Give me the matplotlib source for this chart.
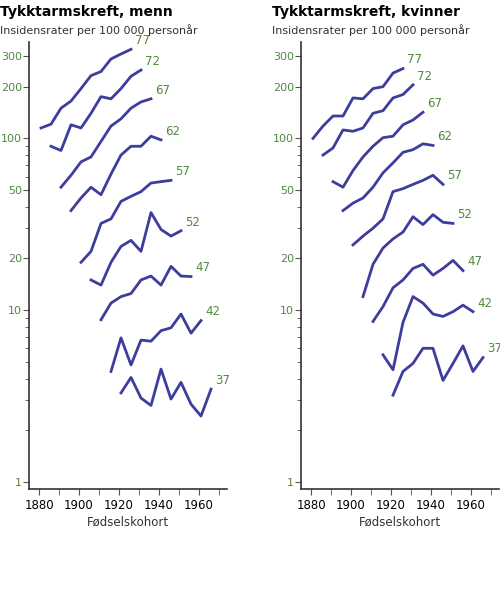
import matplotlib.pyplot as plt
import numpy as np
from matplotlib.ticker import FixedLocator, NullFormatter, LogLocator

ages = [77, 72, 67, 62, 57, 52, 47, 42, 37]
start_years = [1881, 1886, 1891, 1896, 1901, 1906, 1911, 1916, 1921]

menn = [
    [115, 121, 150, 165, 195, 232, 245, 290, 310, 330],
    [90, 85, 120, 115, 140, 175, 170, 195, 230, 250],
    [52, 61, 73, 78, 96, 118, 130, 150, 163, 170],
    [38, 45, 52, 47, 62, 80, 90, 90, 103, 98],
    [19, 22, 32, 34, 43, 46, 49, 55, 56, 57],
    [15, 14, 19, 23.5, 25.5, 22, 37, 29.5, 27, 29],
    [8.8, 11, 12, 12.5, 15, 15.8, 14, 18, 15.8, 15.7],
    [4.4, 6.9, 4.8, 6.7, 6.6, 7.6, 7.9, 9.5, 7.35, 8.7],
    [3.3, 4.06, 3.08, 2.79, 4.54, 3.04, 3.8, 2.84, 2.42, 3.47],
]
kvinner = [
    [100, 118, 135, 135, 172, 170, 195, 200, 240, 255],
    [80, 88, 112, 110, 115, 140, 145, 172, 180, 205],
    [56, 52, 65, 78, 90, 101, 103, 120, 128, 142],
    [38, 42, 45, 52, 63, 72, 83, 86, 93, 91],
    [24, 27, 30, 34, 49, 51, 54, 57, 61, 54],
    [12, 18.5, 23, 26, 28.5, 35, 31.5, 36, 32.5, 32],
    [8.6, 10.5, 13.5, 15, 17.5, 18.5, 16, 17.5, 19.5, 17],
    [5.5, 4.5, 8.5, 12, 11, 9.5, 9.2, 9.8, 10.7, 9.8],
    [3.2, 4.4, 4.9, 6.0, 6.0, 3.9, 4.9, 6.2, 4.4, 5.3],
]
titles = ["Tykktarmskreft, menn", "Tykktarmskreft, kvinner"]
yticks = [1, 10, 20, 50, 100, 200, 300]
xticks = [1880, 1900, 1920, 1940, 1960]

blue = "#3d3d9e"
green = "#4f8a3c"

fig = plt.figure(figsize=(5, 6.03), dpi=100)
for i, (data, title) in enumerate(zip([menn, kvinner], titles)):
    left = 0.058 + i * 0.544
    ax = fig.add_axes([left, 0.189, 0.396, 0.741])
    for age, sy, vals in zip(ages, start_years, data):
        x = np.arange(sy, sy + 5 * len(vals), 5)
        ax.plot(x, vals, color=blue, lw=2)
        ax.text(x[-1] + 2, vals[-1] * 1.03, str(age), color=green, fontsize=8.5,
                va="bottom")
    ax.set_yscale("log")
    ax.set_ylim(0.91, 363)
    ax.set_xlim(1875, 1974)
    ax.yaxis.set_major_locator(FixedLocator(yticks))
    ax.set_yticklabels([str(t) for t in yticks])
    ax.yaxis.set_minor_locator(LogLocator(subs=np.arange(2, 10)))
    ax.yaxis.set_minor_formatter(NullFormatter())
    ax.set_xticks(xticks)
    ax.set_xticks(np.arange(1880, 1971, 10), minor=True)
    ax.tick_params(axis="y", colors="#555555", labelcolor=green, labelsize=8,
                   length=4, pad=1)
    ax.tick_params(axis="y", which="minor", length=3, color="#555555")
    ax.tick_params(axis="x", which="both", length=4, labelsize=8.5, color="#555555")
    for s in ["top", "right"]:
        ax.spines[s].set_visible(False)
    for s in ["left", "bottom"]:
        ax.spines[s].set_color("#333333")
        ax.spines[s].set_linewidth(1.2)
    ax.set_xlabel("Fødselskohort", fontsize=8.5, color="#333333", labelpad=2)
    fig.text(left - 0.058, 0.98, title, fontsize=10, fontweight="bold", va="center")
    fig.text(left - 0.058, 0.95, "Insidensrater per 100 000 personår", fontsize=8,
             color="#333333", va="center")

fig.savefig("out.png", dpi=100)
